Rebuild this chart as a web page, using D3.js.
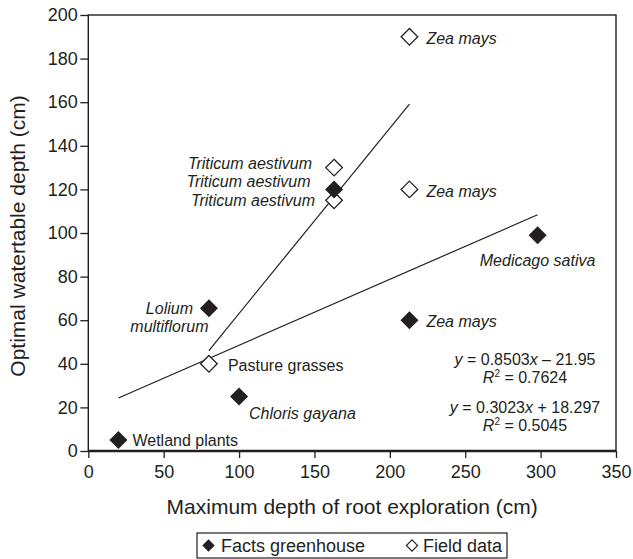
<!DOCTYPE html>
<html>
<head>
<meta charset="utf-8">
<script src="https://cdn.jsdelivr.net/npm/d3@7"></script>
<style>
  html, body { margin: 0; padding: 0; background: #fff; }
  svg { display: block; font-family: "Liberation Sans", Arial, Helvetica, sans-serif; }
</style>
</head>
<body>
<svg id="chart" width="633" height="559"></svg>
<script>
// Greenhouse (filled) observations
const greenhouseNames = ["Wetland plants", "Lolium multiflorum", "Chloris gayana", "Triticum aestivum", "Zea mays", "Medicago sativa"];
const greenhouseDepth = [20, 80, 100, 163, 213, 298];
const greenhouseWatertable = [5, 65.5, 25, 120, 60, 99];

// Field (open) observations
const fieldNames = ["Pasture grasses", "Triticum aestivum", "Triticum aestivum", "Zea mays", "Zea mays"];
const fieldDepth = [80, 163, 163, 213, 213];
const fieldWatertable = [40, 130, 115, 190, 120];

// Linear fits: y = slope * x + intercept, drawn over [fitFrom, fitTo]
const fitSlope = [0.8503, 0.3023];
const fitIntercept = [-21.95, 18.297];
const fitR2 = ["0.7624", "0.5045"];
const fitFrom = [80, 20];
const fitTo = [213, 298];

const xTicks = [0, 50, 100, 150, 200, 250, 300, 350];
const yTicks = [0, 20, 40, 60, 80, 100, 120, 140, 160, 180, 200];

const xTitle = "Maximum depth of root exploration (cm)";
const yTitle = "Optimal watertable depth (cm)";
const legendLabels = ["Facts greenhouse", "Field data"];

// Label placement around each point (offsets in px from the marker)
const greenhouseLabelLayout = [
  { dx: 14, dy: 0, anchor: "start", italic: false, lines: ["Wetland plants"] },
  { dx: -39.5, dy: 0, anchor: "middle", italic: true, lines: ["Lolium", "multiflorum"] },
  { dx: 10, dy: 17, anchor: "start", italic: true, lines: ["Chloris gayana"] },
  { dx: -23.5, dy: -8, anchor: "end", italic: true, lines: ["Triticum aestivum"] },
  { dx: 17, dy: 1.5, anchor: "start", italic: true, lines: ["Zea mays"] },
  { dx: 0, dy: 25, anchor: "middle", italic: true, lines: ["Medicago sativa"] }
];
const fieldLabelLayout = [
  { dx: 19, dy: 1, anchor: "start", italic: false, lines: ["Pasture grasses"] },
  { dx: -22, dy: -4.6, anchor: "end", italic: true, lines: ["Triticum aestivum"] },
  { dx: -19, dy: 0.4, anchor: "end", italic: true, lines: ["Triticum aestivum"] },
  { dx: 17, dy: 1, anchor: "start", italic: true, lines: ["Zea mays"] },
  { dx: 17, dy: 2, anchor: "start", italic: true, lines: ["Zea mays"] }
];

const ink = "#231f20";
const svg = d3.select("#chart");

const plot = { left: 88.3, right: 616, top: 15, bottom: 451 };
const x = d3.scaleLinear().domain([0, 350]).range([plot.left, plot.right]);
const y = d3.scaleLinear().domain([0, 200]).range([plot.bottom, plot.top]);

const diamond = r => `M0,${-r}L${r},0L0,${r}L${-r},0Z`;

// Axes
const xAxis = svg.append("g")
  .attr("transform", `translate(0,${plot.bottom})`)
  .call(d3.axisBottom(x).tickValues(xTicks).tickFormat(d3.format("d")).tickSize(7).tickPadding(7));
const yAxis = svg.append("g")
  .attr("transform", `translate(${plot.left},0)`)
  .call(d3.axisLeft(y).tickValues(yTicks).tickFormat(d3.format("d")).tickSize(8).tickPadding(2.5));

[xAxis, yAxis].forEach(g => {
  g.select(".domain").remove();
  g.selectAll(".tick line").attr("stroke", ink).attr("stroke-width", 1.3);
  g.selectAll(".tick text")
    .attr("fill", ink)
    .style("font-family", "'Liberation Sans', Arial, sans-serif")
    .style("font-size", "18px");
});

// Frame
svg.append("rect")
  .attr("x", plot.left).attr("y", plot.top)
  .attr("width", plot.right - plot.left).attr("height", plot.bottom - plot.top)
  .attr("fill", "none").attr("stroke", ink).attr("stroke-width", 1.4);
svg.append("line")
  .attr("x1", plot.left).attr("x2", plot.right)
  .attr("y1", plot.bottom).attr("y2", plot.bottom)
  .attr("stroke", ink).attr("stroke-width", 2.4);

// Fit lines
fitSlope.forEach((m, i) => {
  const f = v => m * v + fitIntercept[i];
  svg.append("line")
    .attr("x1", x(fitFrom[i])).attr("y1", y(f(fitFrom[i])))
    .attr("x2", x(fitTo[i])).attr("y2", y(f(fitTo[i])))
    .attr("stroke", ink).attr("stroke-width", 1.2);
});

// Markers
const greenhouse = greenhouseNames.map((n, i) => ({ n, x: greenhouseDepth[i], y: greenhouseWatertable[i], lay: greenhouseLabelLayout[i] }));
const field = fieldNames.map((n, i) => ({ n, x: fieldDepth[i], y: fieldWatertable[i], lay: fieldLabelLayout[i] }));

svg.append("g").selectAll("path").data(field).join("path")
  .attr("d", diamond(8.3))
  .attr("transform", d => `translate(${x(d.x)},${y(d.y)})`)
  .attr("fill", "#fff").attr("stroke", ink).attr("stroke-width", 1.3);

svg.append("g").selectAll("path").data(greenhouse).join("path")
  .attr("d", diamond(9))
  .attr("transform", d => `translate(${x(d.x)},${y(d.y)})`)
  .attr("fill", ink);

// Point labels
function drawLabels(points) {
  points.forEach(d => {
    const L = d.lay;
    const t = svg.append("text")
      .attr("text-anchor", L.anchor)
      .attr("fill", ink)
      .style("font-size", "16px")
      .style("font-style", L.italic ? "italic" : "normal");
    L.lines.forEach((line, k) => {
      t.append("tspan")
        .attr("x", x(d.x) + L.dx)
        .attr("y", y(d.y) + L.dy + k * 18.5 + 5.7)
        .text(line);
    });
  });
}
drawLabels(greenhouse);
drawLabels(field);

// Fit equations
const eqCenterX = 525;
const eqRows = [359.3, 407.7];
fitSlope.forEach((m, i) => {
  const b = fitIntercept[i];
  const sign = b < 0 ? "\u2013" : "+";
  const eq = svg.append("text").attr("x", eqCenterX).attr("y", eqRows[i] + 5.7)
    .attr("text-anchor", "middle").attr("fill", ink).style("font-size", "16px");
  eq.append("tspan").style("font-style", "italic").text("y");
  eq.append("tspan").text(` = ${m}`);
  eq.append("tspan").style("font-style", "italic").text("x");
  eq.append("tspan").text(` ${sign} ${Math.abs(b)}`);

  const r2 = svg.append("text").attr("x", eqCenterX).attr("y", eqRows[i] + 18 + 5.7)
    .attr("text-anchor", "middle").attr("fill", ink).style("font-size", "16px");
  r2.append("tspan").style("font-style", "italic").text("R");
  r2.append("tspan").attr("dy", -6).style("font-size", "10px").text("2");
  r2.append("tspan").attr("dy", 6).text(` = ${fitR2[i]}`);
});

// Axis titles
svg.append("text")
  .attr("x", (plot.left + plot.right) / 2).attr("y", 514)
  .attr("text-anchor", "middle").attr("fill", ink)
  .style("font-size", "21px").text(xTitle);
svg.append("text")
  .attr("transform", `translate(25,${(plot.top + plot.bottom) / 2 + 3}) rotate(-90)`)
  .attr("text-anchor", "middle").attr("fill", ink)
  .style("font-size", "21px").text(yTitle);

// Legend
const lg = svg.append("g");
lg.append("rect").attr("x", 197).attr("y", 533).attr("width", 310).attr("height", 25)
  .attr("fill", "#fff").attr("stroke", ink).attr("stroke-width", 1.2);
lg.append("path").attr("d", diamond(6.2)).attr("transform", "translate(208.5,545.5)").attr("fill", ink);
lg.append("text").attr("x", 221).attr("y", 551.8).attr("fill", ink).style("font-size", "18px").text(legendLabels[0]);
lg.append("path").attr("d", diamond(5.6)).attr("transform", "translate(412,545.5)")
  .attr("fill", "#fff").attr("stroke", ink).attr("stroke-width", 1.1);
lg.append("text").attr("x", 423).attr("y", 551.8).attr("fill", ink).style("font-size", "18px").text(legendLabels[1]);
</script>
</body>
</html>
